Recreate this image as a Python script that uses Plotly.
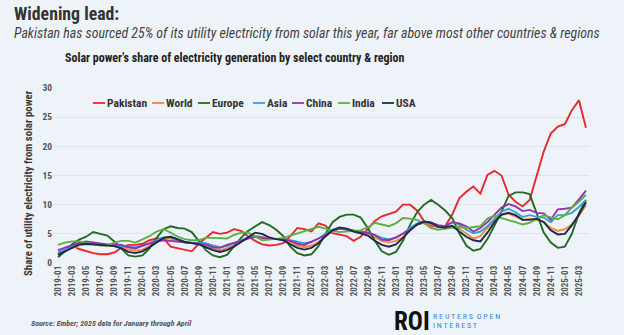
import plotly.graph_objects as go

months = [f"{y}-{m:02d}" for y in range(2019, 2026) for m in range(1, 13)][:76]

pakistan = [1.5, 2.3, 3.0, 2.4, 2.0, 1.7, 1.5, 1.5, 1.8, 2.6, 3.1, 3.1,
            3.3, 3.9, 4.2, 4.2, 2.8, 2.5, 2.3, 2.0, 3.3, 4.3, 5.3, 5.0,
            5.2, 5.8, 5.5, 4.6, 3.8, 3.2, 3.0, 3.1, 3.4, 4.6, 6.0, 5.8,
            5.4, 6.8, 6.4, 5.1, 4.9, 4.6, 3.8, 4.5, 5.8, 7.2, 8.0, 8.4,
            8.8, 10.0, 10.0, 9.0, 7.2, 6.4, 6.2, 6.3, 8.3, 11.1, 12.2, 13.1,
            11.9, 15.1, 15.8, 15.0, 11.7, 10.5, 9.7, 10.8, 15.1, 19.1, 22.2, 23.4,
            23.8, 26.2, 27.9, 23.2]
world = [1.8, 2.2, 2.6, 3.0, 3.2, 3.2, 3.1, 3.1, 2.9, 2.7, 2.3, 2.1,
         2.3, 2.9, 3.7, 4.2, 4.2, 3.8, 3.5, 3.4, 3.3, 3.0, 2.5, 2.2,
         2.5, 3.0, 3.7, 4.3, 4.6, 4.5, 4.2, 4.1, 4.0, 3.6, 3.0, 2.7,
         3.0, 3.6, 4.6, 5.5, 5.9, 5.8, 5.5, 5.2, 5.0, 4.4, 3.8, 3.5,
         3.8, 4.4, 5.6, 6.6, 6.9, 6.7, 6.2, 6.0, 6.2, 5.9, 5.1, 4.2,
         4.6, 6.0, 7.2, 8.2, 8.5, 8.0, 7.4, 7.6, 7.4, 7.1, 6.0, 5.5,
         5.8, 6.6, 8.1, 9.9]
europe = [1.0, 2.0, 3.2, 4.0, 4.5, 5.3, 5.0, 4.7, 3.7, 2.5, 1.3, 1.1,
          1.3, 2.5, 4.3, 5.8, 6.3, 6.0, 5.9, 5.3, 3.8, 2.2, 1.3, 1.0,
          1.4, 2.9, 4.3, 5.5, 6.3, 7.0, 6.5, 5.7, 4.6, 2.8, 1.7, 1.3,
          1.5, 2.9, 5.0, 7.0, 7.9, 8.3, 8.3, 7.8, 6.0, 3.8, 2.0, 1.4,
          1.9, 3.8, 6.5, 8.7, 10.0, 10.8, 10.0, 9.0, 7.7, 5.1, 3.0, 2.1,
          2.4, 4.1, 6.4, 8.8, 11.5, 12.1, 12.1, 11.8, 8.5, 5.2, 3.5, 2.6,
          2.8, 5.0, 8.5, 10.8]
asia = [1.8, 2.3, 2.8, 3.2, 3.4, 3.3, 3.2, 3.2, 3.1, 3.0, 2.8, 2.7,
        2.9, 3.4, 3.9, 4.4, 4.5, 4.0, 3.6, 3.5, 3.5, 3.4, 3.0, 2.7,
        2.9, 3.4, 3.9, 4.4, 4.6, 4.4, 4.1, 4.1, 4.1, 3.9, 3.6, 3.4,
        3.6, 4.2, 5.0, 5.7, 6.0, 5.8, 5.5, 5.3, 5.2, 4.8, 4.3, 4.1,
        4.3, 5.0, 6.0, 6.8, 7.1, 6.9, 6.4, 6.3, 7.0, 6.6, 5.7, 5.1,
        5.4, 6.3, 7.6, 8.8, 9.3, 8.7, 7.9, 8.2, 7.9, 7.8, 7.0, 8.2,
        8.2, 8.6, 9.6, 10.8]
china = [2.2, 2.6, 3.1, 3.5, 3.7, 3.5, 3.3, 3.2, 3.2, 3.1, 2.7, 2.5,
         3.0, 3.4, 3.7, 3.9, 3.8, 3.7, 3.5, 3.4, 3.4, 3.2, 2.7, 2.6,
         3.1, 3.4, 3.8, 4.2, 4.5, 4.3, 4.1, 4.1, 4.1, 3.8, 3.3, 3.1,
         3.6, 4.2, 4.8, 5.5, 5.9, 5.7, 5.4, 5.3, 5.2, 4.8, 4.0, 3.9,
         4.4, 5.0, 5.7, 6.6, 7.0, 6.9, 6.5, 6.3, 7.0, 6.8, 6.3, 5.4,
         6.0, 7.0, 8.2, 9.5, 10.1, 9.7, 8.9, 9.1, 8.6, 8.5, 7.4, 9.2,
         9.3, 9.5, 10.9, 12.4]
india = [3.1, 3.5, 3.7, 3.7, 3.5, 3.2, 3.0, 3.0, 3.5, 3.8, 3.8, 3.5,
         4.0, 4.6, 5.4, 5.8, 5.2, 4.5, 4.1, 3.9, 3.9, 4.3, 4.3, 4.2,
         4.2, 4.8, 5.2, 5.2, 4.5, 3.9, 4.0, 4.2, 4.3, 4.7, 5.1, 5.4,
         5.8, 6.2, 5.9, 5.5, 5.3, 5.4, 5.5, 5.6, 6.1, 6.9, 6.6, 6.3,
         6.8, 7.7, 7.6, 7.4, 6.8, 6.0, 5.7, 5.9, 6.1, 6.2, 6.0, 6.2,
         6.3, 7.6, 8.1, 7.7, 7.4, 7.0, 6.6, 6.9, 7.6, 8.2, 7.8, 7.5,
         8.2, 9.5, 10.5, 11.7]
usa = [1.4, 2.0, 2.6, 3.2, 3.3, 3.2, 3.1, 3.1, 2.9, 2.5, 1.9, 1.7,
       2.0, 2.7, 3.5, 4.3, 4.5, 4.1, 3.6, 3.4, 3.2, 2.7, 2.2, 1.9,
       2.2, 2.8, 3.6, 4.4, 5.2, 5.0, 4.4, 4.1, 3.9, 3.2, 2.6, 2.3,
       2.6, 3.4, 4.6, 5.6, 6.1, 5.9, 5.4, 5.1, 4.7, 3.8, 3.1, 2.8,
       3.2, 4.3, 5.6, 6.6, 7.1, 6.9, 6.2, 6.1, 6.4, 5.4, 4.5, 3.9,
       3.7, 5.2, 7.0, 8.3, 8.6, 8.2, 7.4, 7.4, 7.6, 7.0, 5.6, 4.9,
       5.0, 6.5, 8.3, 10.4]

names = ["Pakistan", "World", "Europe", "Asia", "China", "India", "USA"]
values = [pakistan, world, europe, asia, china, india, usa]
colors = ["#e8262b", "#f0883c", "#236b24", "#33a2dc", "#9b2fae", "#5cb043", "#1b2a4c"]

y_ticks = [0, 5, 10, 15, 20, 25, 30]

FONT = "Liberation Sans Narrow, Roboto Condensed, Roboto, sans-serif"
BG = "#eef3f9"

L, R, T, B = 53, 589, 88, 263
def px(x):
    return (x - L) / (R - L)
def py(y):
    return (B - y) / (B - T)

fig = go.Figure()
for n, v, c in zip(names, values, colors):
    fig.add_trace(go.Scatter(x=months, y=v, mode="lines", name=n,
                             line=dict(color=c, width=1.9), showlegend=False))

annotations = [
    dict(text="Widening lead:", x=px(12), y=py(13), font=dict(size=17.8, color="#333333", weight="bold")),
    dict(text="<i>Pakistan has sourced 25% of its utility electricity from solar this year, far above most other countries & regions</i>",
         x=px(12), y=py(33), font=dict(size=13.9, color="#444444")),
    dict(text="Solar power's share of electricity generation by select country & region",
         x=px(63), y=py(58), font=dict(size=12, color="#222222", weight="bold")),
    dict(text="Share of utility electricity from solar power", x=px(28), y=py(183), textangle=-90,
         xanchor="center", yanchor="middle", font=dict(size=10.8, color="#3a3a3a", weight="bold")),
    dict(text="<i>Source: Ember; 2025 data for January through April</i>", x=px(29), y=py(323),
         font=dict(size=8, color="#555555", weight="bold")),
    dict(text="ROI", x=px(392), y=py(321), font=dict(size=25, color="#111111", weight="bold")),
    dict(text="R E U T E R S&nbsp;&nbsp;O P E N", x=px(431), y=py(316.5), font=dict(size=8, color="#3b7fd0")),
    dict(text="I N T E R E S T", x=px(431), y=py(325.5), font=dict(size=8, color="#3b7fd0")),
]

# legend built from series names/colours
legend_x = [93, 152, 198, 253, 292, 338, 382]
shapes = []
for n, c, lx in zip(names, colors, legend_x):
    shapes.append(dict(type="line", xref="paper", yref="paper", x0=px(lx), x1=px(lx + 12),
                       y0=py(103), y1=py(103), line=dict(color=c, width=1.8)))
    annotations.append(dict(text=n, x=px(lx + 12), y=py(103),
                            font=dict(size=11.5, color="#333333", weight="bold")))

for a in annotations:
    a.update(xref="paper", yref="paper", showarrow=False)
    a.setdefault("xanchor", "left")
    a.setdefault("yanchor", "middle")
    a["font"].setdefault("family", FONT)

fig.update_layout(
    width=624, height=335,
    margin=dict(l=L, r=624 - R, t=T, b=335 - B),
    paper_bgcolor=BG, plot_bgcolor=BG,
    font=dict(family=FONT),
    annotations=annotations,
    shapes=shapes,
    xaxis=dict(type="category", range=[-0.71, 75.43], tickvals=months[::2], ticktext=months[::2],
               tickangle=-90, tickfont=dict(size=9, color="#555555", weight="bold"),
               showgrid=False, showline=False, zeroline=False, ticks=""),
    yaxis=dict(range=[0, 30], tickvals=y_ticks, gridcolor="#dce4ec", gridwidth=1, zeroline=False,
               tickfont=dict(size=9.5, color="#555555", weight="bold"), ticks=""),
)

fig.write_html("out.html")
